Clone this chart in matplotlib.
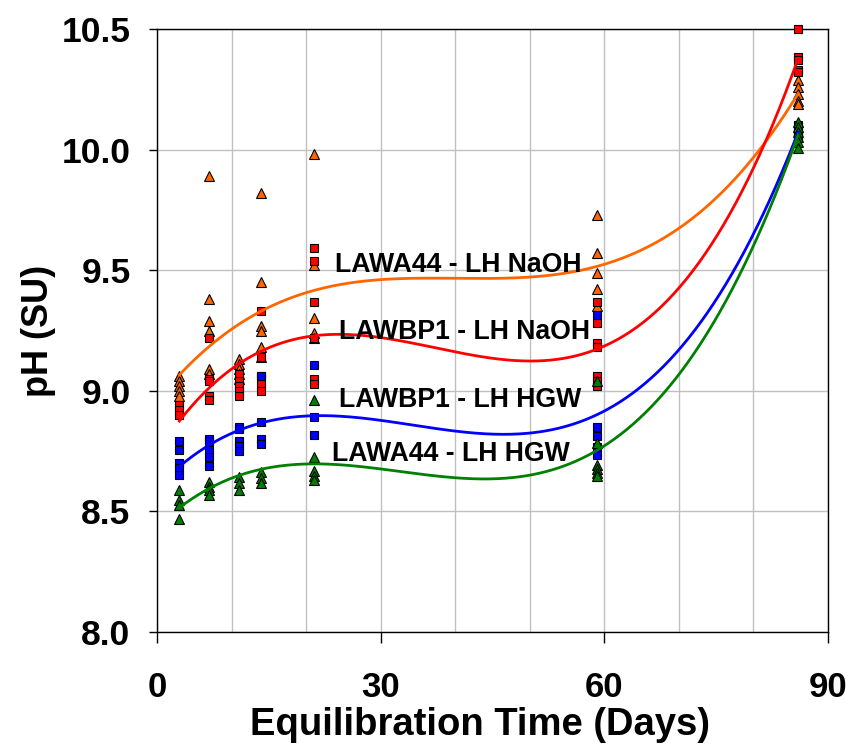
import numpy as np
import matplotlib
matplotlib.use("Agg")
import matplotlib.pyplot as plt
from matplotlib.ticker import MultipleLocator

plt.rcParams['font.family'] = ['Liberation Sans', 'DejaVu Sans']

# ---- data (day, pH) ----
days = [3, 7, 11, 14, 21, 59, 86]

lawa44_naoh = {
    3: [9.06, 9.04, 9.02, 9.00, 8.98],
    7: [9.89, 9.38, 9.29, 9.25, 9.09, 9.07],
    11: [9.13, 9.11, 9.09, 9.07, 9.05],
    14: [9.82, 9.45, 9.27, 9.25, 9.18, 9.14],
    21: [9.98, 9.52, 9.30, 9.24, 9.22],
    59: [9.73, 9.57, 9.49, 9.42, 9.35],
    86: [10.29, 10.26, 10.23, 10.20, 10.19],
}
lawbp1_naoh = {
    3: [8.94, 8.92, 8.90],
    7: [9.22, 9.05, 9.04, 8.98, 8.96],
    11: [9.07, 9.04, 9.02, 9.00, 8.98],
    14: [9.33, 9.14, 9.06, 9.03, 9.00],
    21: [9.59, 9.54, 9.37, 9.22, 9.05, 9.03],
    59: [9.37, 9.28, 9.20, 9.18, 9.06, 9.04, 9.02],
    86: [10.50, 10.385, 10.37, 10.33, 10.32],
}
lawbp1_hgw = {
    3: [8.79, 8.755, 8.70, 8.68, 8.65],
    7: [8.80, 8.79, 8.755, 8.727, 8.69],
    11: [8.85, 8.84, 8.79, 8.77, 8.75],
    14: [9.06, 8.87, 8.80, 8.78],
    21: [9.107, 8.893, 8.817],
    59: [9.314, 8.851, 8.813, 8.768, 8.734],
    86: [10.10, 10.09, 10.07, 10.06, 10.05],
}
lawa44_hgw = {
    3: [8.59, 8.547, 8.527, 8.468],
    7: [8.62, 8.60, 8.59, 8.57],
    11: [8.644, 8.616, 8.59],
    14: [8.665, 8.637, 8.616],
    21: [8.962, 8.727, 8.667, 8.648, 8.63],
    59: [9.04, 8.784, 8.692, 8.674, 8.66, 8.647],
    86: [10.116, 10.095, 10.074, 10.053, 10.033, 10.005],
}

series_names = ["LAWA44 - LH NaOH", "LAWBP1 - LH NaOH", "LAWBP1 - LH HGW", "LAWA44 - LH HGW"]
series_data = [lawa44_naoh, lawbp1_naoh, lawbp1_hgw, lawa44_hgw]
series_colors = ["#FF6600", "#FF0000", "#0000FF", "#008000"]
series_markers = ["^", "s", "s", "^"]
label_pos = [(23.9, 9.52), (24.4, 9.245), (24.4, 8.96), (23.5, 8.737)]

fig = plt.figure(figsize=(8.46, 7.44), dpi=100)
ax = fig.add_axes([157/846, 1-632/744, (828-157)/846, (632-29)/744])

def flatten(d):
    xs, ys = [], []
    for k in days:
        for v in d[k]:
            xs.append(k)
            ys.append(v)
    return np.array(xs, float), np.array(ys, float)

xfit = np.linspace(3, 86, 300)
for name, d, c, m, lp in zip(series_names, series_data, series_colors, series_markers, label_pos):
    xs, ys = flatten(d)
    ms = 6.8 if m == "^" else 5.4
    ax.plot(xs, ys, linestyle="none", marker=m, markersize=ms, markerfacecolor=c,
            markeredgecolor="black", markeredgewidth=0.8, zorder=3, clip_on=False)
    coef = np.polyfit(xs, ys, 3)
    ax.plot(xfit, np.polyval(coef, xfit), color=c, lw=2, zorder=4)
    ax.text(lp[0], lp[1], name, fontsize=19.2, fontweight="bold", ha="left", va="center", zorder=5)

ax.set_xlim(0, 90)
ax.set_ylim(8.0, 10.5)
ax.set_xticks([0, 30, 60, 90])
ax.xaxis.set_minor_locator(MultipleLocator(10))
ax.set_yticks([8.0, 8.5, 9.0, 9.5, 10.0, 10.5])
ax.set_yticklabels(["8.0", "8.5", "9.0", "9.5", "10.0", "10.5"])
ax.grid(True, which="both", axis="x", color="#c0c0c0", lw=1, zorder=0)
ax.grid(True, which="major", axis="y", color="#c0c0c0", lw=1, zorder=0)
ax.set_axisbelow(True)
ax.tick_params(axis="x", which="major", direction="out", length=8, width=1, pad=20, labelsize=25)
ax.tick_params(axis="x", which="minor", length=0)
ax.tick_params(axis="y", which="major", direction="out", length=6, width=1, pad=13, labelsize=25.5)
for lab in ax.get_xticklabels() + ax.get_yticklabels():
    lab.set_fontweight("bold")
for sp in ax.spines.values():
    sp.set_linewidth(1)
    sp.set_color("black")
ax.set_xlabel("Equilibration Time (Days)", fontsize=27.5, fontweight="bold", labelpad=0)
ax.xaxis.set_label_coords(0.482, -0.125)
ax.set_ylabel("pH (SU)", fontsize=26, fontweight="bold", labelpad=4)

fig.savefig("out.png", dpi=100)
